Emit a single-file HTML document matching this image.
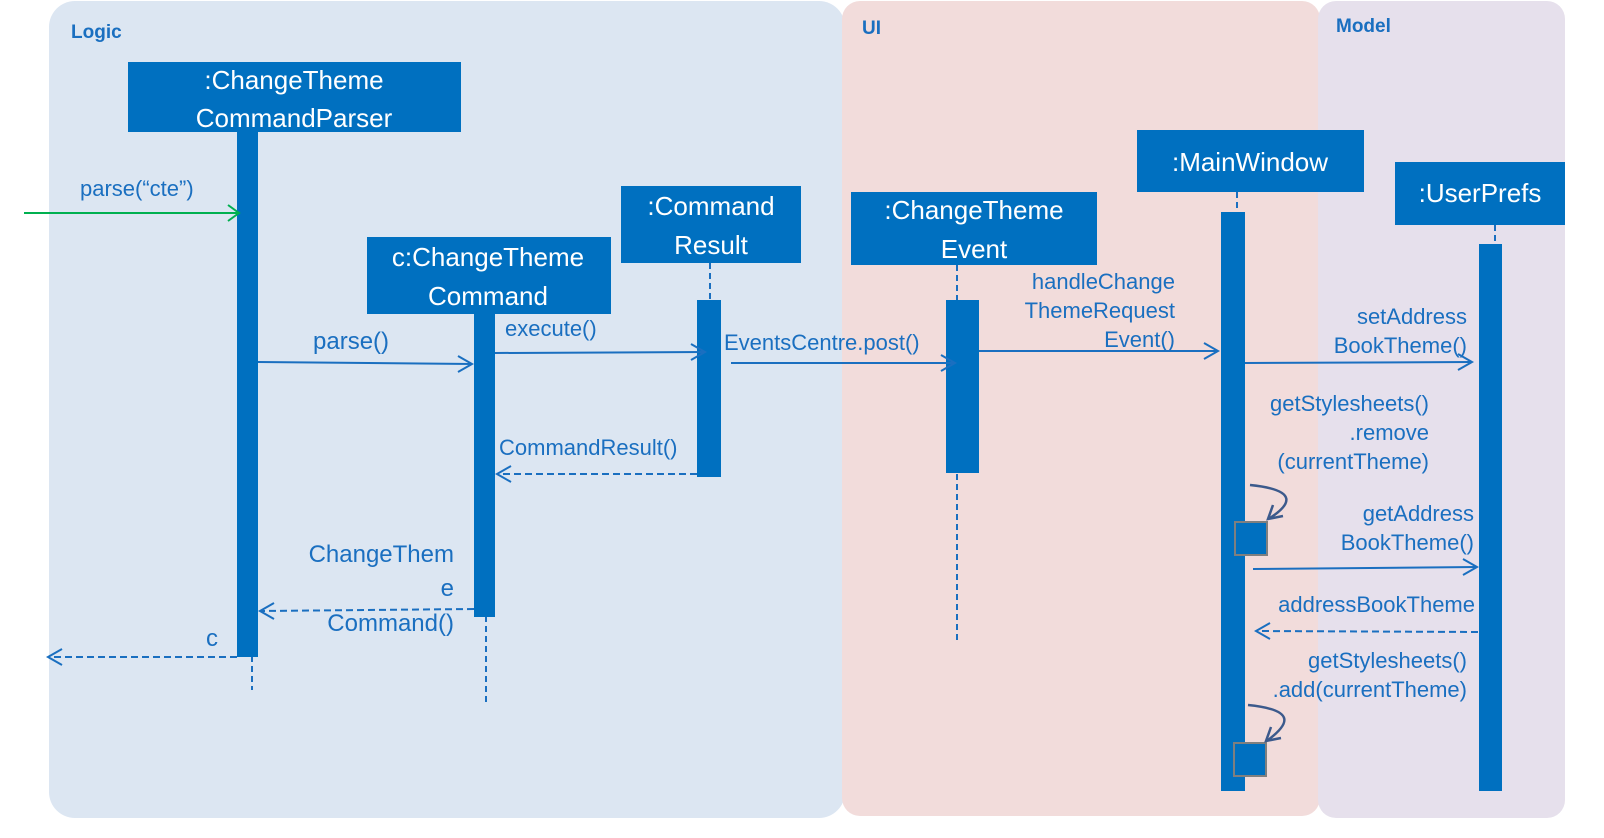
<!DOCTYPE html>
<html><head><meta charset="utf-8"><style>
html,body{margin:0;padding:0;background:#fff;}
svg{display:block;}
text{font-family:"Liberation Sans",Arial,sans-serif;}
.w{fill:#fff;font-size:26px;text-anchor:middle;}
.m{fill:#1a6fc0;font-size:22px;}
.h{fill:#1a6fc0;font-size:19px;font-weight:bold;}
.l{stroke:#1a6fc0;stroke-width:2;fill:none;}
.d{stroke:#1a6fc0;stroke-width:2;fill:none;stroke-dasharray:7 4;}
.ll{stroke:#1a6fc0;stroke-width:2;stroke-dasharray:6 4;}
</style></head><body>
<svg width="1604" height="838" viewBox="0 0 1604 838">
<rect x="49" y="1" width="796" height="817" rx="26" fill="#DCE6F2"/>
<rect x="842" y="1" width="478" height="815" rx="18" fill="#F2DCDB"/>
<rect x="1318" y="1" width="247" height="817" rx="18" fill="#E6E0EC"/>
<text class="h" x="71" y="38">Logic</text>
<text class="h" x="862" y="34">UI</text>
<text class="h" x="1336" y="32">Model</text>

<!-- lifelines -->
<line class="ll" x1="252" y1="656" x2="252" y2="690"/>
<line class="ll" x1="486" y1="616" x2="486" y2="705"/>
<line class="ll" x1="710" y1="263" x2="710" y2="300"/>
<line class="ll" x1="957" y1="265" x2="957" y2="300"/>
<line class="ll" x1="957" y1="474" x2="957" y2="642"/>
<line class="ll" x1="1237" y1="192" x2="1237" y2="212"/>
<line class="ll" x1="1495" y1="225" x2="1495" y2="244"/>

<!-- boxes -->
<rect x="128" y="62" width="333" height="70" fill="#0070C0"/>
<text class="w" x="294" y="89">:ChangeTheme</text><text class="w" x="294" y="127">CommandParser</text>
<rect x="367" y="237" width="244" height="77" fill="#0070C0"/>
<text class="w" x="488" y="266">c:ChangeTheme</text><text class="w" x="488" y="305">Command</text>
<rect x="621" y="186" width="180" height="77" fill="#0070C0"/>
<text class="w" x="711" y="215">:Command</text><text class="w" x="711" y="254">Result</text>
<rect x="851" y="192" width="246" height="73" fill="#0070C0"/>
<text class="w" x="974" y="219">:ChangeTheme</text><text class="w" x="974" y="258">Event</text>
<rect x="1137" y="130" width="227" height="62" fill="#0070C0"/>
<text class="w" x="1250" y="171">:MainWindow</text>
<rect x="1395" y="162" width="170" height="63" fill="#0070C0"/>
<text class="w" x="1480" y="202">:UserPrefs</text>

<!-- activations -->
<rect x="237" y="132" width="21" height="525" fill="#0070C0"/>
<rect x="474" y="314" width="21" height="303" fill="#0070C0"/>
<rect x="697" y="300" width="24" height="177" fill="#0070C0"/>
<rect x="946" y="300" width="33" height="173" fill="#0070C0"/>
<rect x="1221" y="212" width="24" height="579" fill="#0070C0"/>
<rect x="1479" y="244" width="23" height="547" fill="#0070C0"/>
<rect x="1235" y="522" width="32" height="33" fill="#0070C0" stroke="#7f7f7f" stroke-width="2"/>
<rect x="1234" y="743" width="32" height="33" fill="#0070C0" stroke="#7f7f7f" stroke-width="2"/>

<!-- messages -->
<line x1="24" y1="213" x2="238" y2="213" stroke="#00B050" stroke-width="2"/>
<path d="M228,205 L239,213 L228,221" stroke="#00B050" stroke-width="2" fill="none"/>
<text class="m" x="80" y="196">parse(“cte”)</text>

<line class="l" x1="258" y1="362" x2="472" y2="364"/><path class="l" d="M458,356 L472,364 L458,372"/>
<text class="m" x="313" y="349" style="font-size:24px">parse()</text>

<line class="l" x1="495" y1="353" x2="705" y2="352"/><path class="l" d="M691,344 L705,352 L691,360"/>
<text class="m" x="505" y="336">execute()</text>

<line class="l" x1="731" y1="363" x2="955" y2="363"/><path class="l" d="M941,355 L955,363 L941,371"/>
<text class="m" x="724" y="350">EventsCentre.post()</text>

<line class="l" x1="979" y1="351" x2="1218" y2="351"/><path class="l" d="M1204,343 L1218,351 L1204,359"/>
<text class="m" x="1175" y="289" text-anchor="end">handleChange</text>
<text class="m" x="1175" y="318" text-anchor="end">ThemeRequest</text>
<text class="m" x="1175" y="347" text-anchor="end">Event()</text>

<line class="l" x1="1245" y1="363" x2="1472" y2="362"/><path class="l" d="M1458,354 L1472,362 L1458,370"/>
<text class="m" x="1467" y="324" text-anchor="end">setAddress</text>
<text class="m" x="1467" y="353" text-anchor="end">BookTheme()</text>

<text class="m" x="1429" y="411" text-anchor="end">getStylesheets()</text>
<text class="m" x="1429" y="440" text-anchor="end">.remove</text>
<text class="m" x="1429" y="469" text-anchor="end">(currentTheme)</text>
<path d="M1250,485 C1300,490 1290,505 1270,518" stroke="#3c5a8c" stroke-width="2.5" fill="none"/>
<path d="M1273,505 L1268,519 L1283,516" stroke="#3c5a8c" stroke-width="2.5" fill="none"/>

<text class="m" x="1474" y="521" text-anchor="end">getAddress</text>
<text class="m" x="1474" y="550" text-anchor="end">BookTheme()</text>
<line class="l" x1="1253" y1="569" x2="1477" y2="567"/><path class="l" d="M1463,559 L1477,567 L1463,575"/>

<text class="m" x="1475" y="612" text-anchor="end">addressBookTheme</text>
<line class="d" x1="1478" y1="632" x2="1256" y2="631"/><path class="l" d="M1270,623 L1256,631 L1270,639"/>

<text class="m" x="1467" y="668" text-anchor="end">getStylesheets()</text>
<text class="m" x="1467" y="697" text-anchor="end">.add(currentTheme)</text>
<path d="M1248,705 C1298,710 1288,725 1268,740" stroke="#3c5a8c" stroke-width="2.5" fill="none"/>
<path d="M1271,727 L1266,741 L1281,738" stroke="#3c5a8c" stroke-width="2.5" fill="none"/>

<line class="d" x1="697" y1="474" x2="497" y2="474"/><path class="l" d="M511,466 L497,474 L511,482"/>
<text class="m" x="499" y="455">CommandResult()</text>

<line class="d" x1="474" y1="609" x2="260" y2="611"/><path class="l" d="M274,603 L260,611 L274,619"/>
<text class="m" x="454" y="562" text-anchor="end" style="font-size:24px">ChangeThem</text>
<text class="m" x="454" y="596" text-anchor="end" style="font-size:24px">e</text>
<text class="m" x="454" y="631" text-anchor="end" style="font-size:24px">Command()</text>

<line class="d" x1="237" y1="657" x2="48" y2="657"/><path class="l" d="M62,649 L48,657 L62,665"/>
<text class="m" x="206" y="646" style="font-size:24px">c</text>
</svg>
</body></html>
